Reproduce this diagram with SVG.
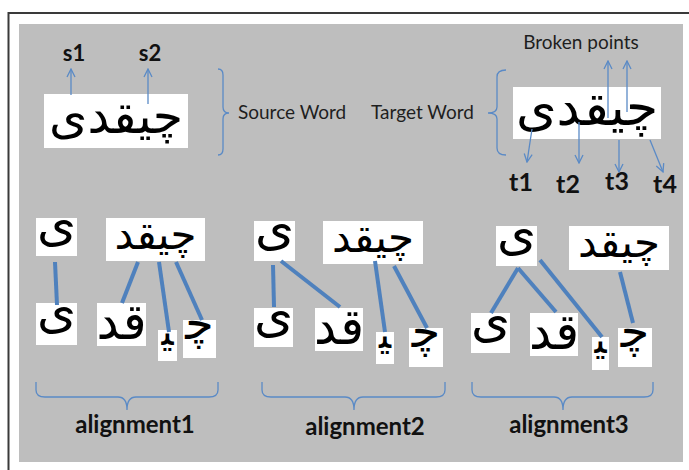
<svg xmlns="http://www.w3.org/2000/svg" width="689" height="470" viewBox="0 0 689 470">
<style>
.lbl{font-family:Lato,"Liberation Sans",sans-serif;font-size:19px;fill:#1e1e1e}
.sl{font-family:Lato,"Liberation Sans",sans-serif;font-size:22px;font-weight:bold;fill:#111}
.tl{font-family:Lato,"Liberation Sans",sans-serif;font-size:25px;font-weight:bold;fill:#111}
.al{font-family:Lato,"Liberation Sans",sans-serif;font-size:24px;font-weight:bold;fill:#111;text-anchor:middle}
.box{fill:#fff}
.ar{font-family:"DejaVu Sans",sans-serif;fill:#000;text-anchor:middle}
.w{font-size:42px}
.y{font-size:50px}
.qd{font-size:50px}
.my{font-size:40px}
.ch{font-size:46px}
.arw{stroke:#5a8ac6;stroke-width:1.3;fill:none;marker-end:url(#oh)}
.lnk{stroke:#4f81bd;stroke-width:4;fill:none}
.brace{stroke:#5a8ac6;stroke-width:1.3;fill:none}
</style>
<defs>
<marker id="oh" viewBox="0 0 10 10" refX="9" refY="5" markerWidth="10" markerHeight="10" markerUnits="userSpaceOnUse" orient="auto">
<path d="M1,1 L9,5 L1,9" fill="none" stroke="#5a8ac6" stroke-width="1.3"/>
</marker>
</defs>
<rect x="0" y="0" width="689" height="470" fill="#fff"/>
<path d="M8.5,470 V13 H689" fill="none" stroke="#3a3a3a" stroke-width="2"/>
<rect x="19" y="24" width="664" height="438" fill="#bebebe"/>

<g id="source-word">
<rect class="box" x="44" y="94" width="144" height="54"/>
<text class="ar" x="116" y="133" font-size="49">چیقدی</text>
</g>
<g id="s1"><text class="sl" x="74" y="61" text-anchor="middle">s1</text></g>
<g id="s2"><text class="sl" x="150" y="61" text-anchor="middle">s2</text></g>
<g id="source-label"><text class="lbl" x="238" y="119">Source Word</text></g>

<g id="target-label"><text class="lbl" x="371" y="119">Target Word</text></g>
<g id="target-word">
<rect class="box" x="513" y="87" width="148" height="52"/>
<text class="ar" x="587" y="125" font-size="52">چیقدی</text>
</g>
<g id="broken-points"><text class="lbl" x="581" y="49" text-anchor="middle">Broken points</text></g>
<g id="t1"><text class="tl" x="521" y="191" text-anchor="middle">t1</text></g>
<g id="t2"><text class="tl" x="568" y="193" text-anchor="middle">t2</text></g>
<g id="t3"><text class="tl" x="617" y="190" text-anchor="middle">t3</text></g>
<g id="t4"><text class="tl" x="665" y="193" text-anchor="middle">t4</text></g>

<!-- alignment 1 -->
<g id="a1-src-y"><rect class="box" x="36" y="218" width="41" height="38"/><text class="ar y" x="56.5" y="241">ی</text></g>
<g id="a1-src-chiqd"><rect class="box" x="106" y="218" width="99" height="43"/><text class="ar w" x="155.5" y="249">چیقد</text></g>
<g id="a1-t1"><rect class="box" x="36" y="303" width="41" height="42"/><text class="ar y" x="56.5" y="328">ی</text></g>
<g id="a1-t2"><rect class="box" x="97" y="303" width="49" height="43"/><text class="ar qd" x="121.5" y="339">قد</text></g>
<g id="a1-t3"><rect class="box" x="158" y="330" width="19" height="31"/><text class="ar my" x="167.5" y="345">&#x200D;ی&#x200D;</text></g>
<g id="a1-t4"><rect class="box" x="183" y="320" width="33" height="38"/><text class="ar ch" x="199.5" y="339">چ&#x200D;</text></g>
<g id="a1-label"><text class="al" x="135" y="433">alignment1</text></g>

<!-- alignment 2 -->
<g id="a2-src-y"><rect class="box" x="254" y="221" width="41" height="40"/><text class="ar y" x="274.5" y="245">ی</text></g>
<g id="a2-src-chiqd"><rect class="box" x="323" y="221" width="100" height="43"/><text class="ar w" x="373" y="252">چیقد</text></g>
<g id="a2-t1"><rect class="box" x="254" y="308" width="39" height="39"/><text class="ar y" x="273.5" y="332">ی</text></g>
<g id="a2-t2"><rect class="box" x="315" y="308" width="48" height="43"/><text class="ar qd" x="339" y="344">قد</text></g>
<g id="a2-t3"><rect class="box" x="376" y="332" width="18" height="32"/><text class="ar my" x="385" y="348">&#x200D;ی&#x200D;</text></g>
<g id="a2-t4"><rect class="box" x="409" y="328" width="34" height="39"/><text class="ar ch" x="426" y="347">چ&#x200D;</text></g>
<g id="a2-label"><text class="al" x="365" y="435">alignment2</text></g>

<!-- alignment 3 -->
<g id="a3-src-y"><rect class="box" x="496" y="226" width="41" height="40"/><text class="ar y" x="516.5" y="250">ی</text></g>
<g id="a3-src-chiqd"><rect class="box" x="569" y="226" width="100" height="44"/><text class="ar w" x="619" y="257">چیقد</text></g>
<g id="a3-t1"><rect class="box" x="471" y="313" width="39" height="40"/><text class="ar y" x="490.5" y="337">ی</text></g>
<g id="a3-t2"><rect class="box" x="530" y="313" width="48" height="43"/><text class="ar qd" x="554" y="349">قد</text></g>
<g id="a3-t3"><rect class="box" x="592" y="337" width="17" height="33"/><text class="ar my" x="600.5" y="353">&#x200D;ی&#x200D;</text></g>
<g id="a3-t4"><rect class="box" x="618" y="328" width="34" height="39"/><text class="ar ch" x="635" y="347">چ&#x200D;</text></g>
<g id="a3-label"><text class="al" x="569" y="433">alignment3</text></g>

<g id="connectors">
<path class="arw" d="M71,95 V69"/>
<path class="arw" d="M148,104 V69"/>
<path class="arw" d="M608,118 V61"/>
<path class="arw" d="M627,112 V61"/>
<path class="arw" d="M532,129 L527,162"/>
<path class="arw" d="M579,122 V163"/>
<path class="arw" d="M619,140 V172"/>
<path class="arw" d="M650,140 L663,172"/>
<path class="brace" d="M218,69 Q223,69 223,75 V107 Q223,113 229,113 Q223,113 223,119 V149 Q223,155 218,155"/>
<path class="brace" d="M506,70 Q497,70 497,77 V107 Q497,113 488,113 Q497,113 497,119 V148 Q497,155 506,155"/>
<path class="brace" d="M36,382 V390 Q36,397 45,397 H118 Q127,397 127,410 Q127,397 136,397 H209 Q218,397 218,390 V382"/>
<path class="brace" d="M262,382 V390 Q262,397 271,397 H345 Q354,397 354,410 Q354,397 363,397 H436 Q445,397 445,390 V382"/>
<path class="brace" d="M472,382 V390 Q472,397 481,397 H554 Q563,397 563,410 Q563,397 572,397 H644 Q653,397 653,390 V382"/>
<path class="lnk" d="M55,262 L57,305"/>
<path class="lnk" d="M138,262 L122,303"/>
<path class="lnk" d="M159,262 L169,332"/>
<path class="lnk" d="M176,262 L202,320"/>
<path class="lnk" d="M273,265 L274,307"/>
<path class="lnk" d="M281,261 L340,307"/>
<path class="lnk" d="M375,261 L385,332"/>
<path class="lnk" d="M394,266 L427,328"/>
<path class="lnk" d="M518,268 L491,313"/>
<path class="lnk" d="M518,268 L556,312"/>
<path class="lnk" d="M540,260 L602,337"/>
<path class="lnk" d="M620,272 L633,323"/>
</g>
</svg>
